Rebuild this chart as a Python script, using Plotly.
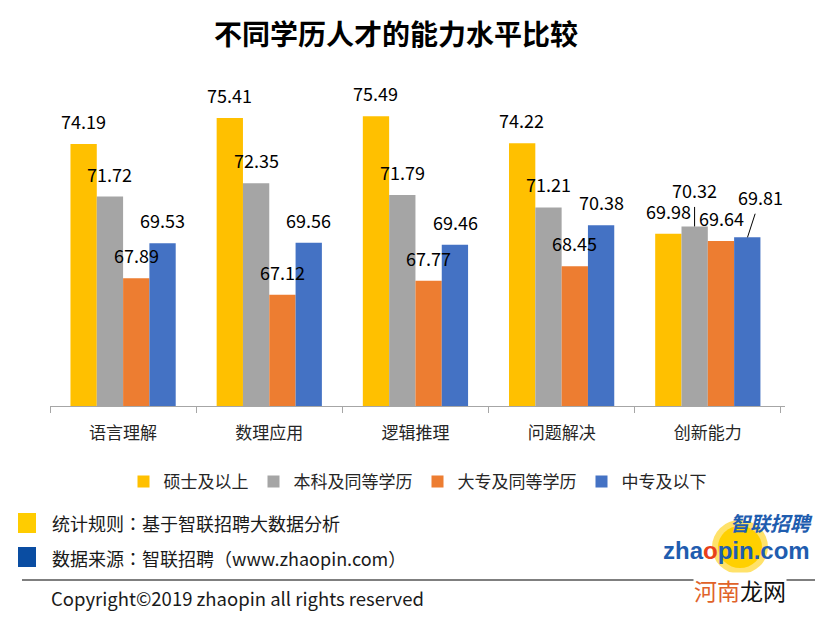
import plotly.graph_objects as go

# data
categories = ['语言理解', '数理应用', '逻辑推理', '问题解决', '创新能力']
series_names = ['硕士及以上', '本科及同等学历', '大专及同等学历', '中专及以下']
master_up = [74.19, 75.41, 75.49, 74.22, 69.98]
bachelor = [71.72, 72.35, 71.79, 71.21, 70.32]
college = [67.89, 67.12, 67.77, 68.45, 69.64]
secondary = [69.53, 69.56, 69.46, 70.38, 69.81]

series_values = [master_up, bachelor, college, secondary]
colors = ['#FFC000', '#A5A5A5', '#ED7D31', '#4472C4']

FONT = 'Noto Sans CJK SC'
FONT_JP = 'Noto Sans CJK JP'
W, H = 830, 620
M_L, M_R, M_T, M_B = 50, 45, 100, 214
BARGAP = 0.28

plot_w = W - M_L - M_R
plot_h = H - M_T - M_B


def px_x(X):
    return (X - M_L) / plot_w


def px_y(Y):
    return (H - M_B - Y) / plot_h


fig = go.Figure()

for name, vals, col in zip(series_names, series_values, colors):
    fig.add_trace(go.Bar(
        x=categories, y=vals, name=name,
        marker=dict(color=col, line=dict(width=0)),
        hovertemplate='%{x}<br>' + name + ': %{y:.2f}<extra></extra>'
    ))

# data labels, Excel style: a bit above each bar, a few moved with leader lines
bar_px = plot_w / len(categories) * (1 - BARGAP) / len(series_names)
leader = {(1, 4): (0, -36), (3, 4): (13, -40)}
annotations = []
for i, vals in enumerate(series_values):
    shift = (i - (len(series_names) - 1) / 2) * bar_px
    for j, v in enumerate(vals):
        if (i, j) in leader:
            ax, ay = leader[(i, j)]
            annotations.append(dict(
                x=categories[j], y=v, xref='x', yref='y', xshift=shift,
                text=f'{v:.2f}', showarrow=True, arrowhead=0, arrowwidth=1,
                arrowcolor='#000000', ax=ax, ay=ay, startstandoff=2,
                font=dict(family=FONT, size=18, color='#000000')
            ))
        else:
            annotations.append(dict(
                x=categories[j], y=v, xref='x', yref='y', xshift=shift,
                yshift=23, yanchor='middle', text=f'{v:.2f}', showarrow=False,
                font=dict(family=FONT, size=18, color='#000000')
            ))

# footnotes
foot_font = dict(family=FONT_JP, size=18, color='#1a1a1a')
annotations += [
    dict(x=px_x(50), y=px_y(523), xref='paper', yref='paper', xanchor='left',
         yanchor='middle', showarrow=False, font=foot_font,
         text='统计规则：基于智联招聘大数据分析'),
    dict(x=px_x(50), y=px_y(558), xref='paper', yref='paper', xanchor='left',
         yanchor='middle', showarrow=False, font=foot_font,
         text='数据来源：智联招聘（www.zhaopin.com）'),
    dict(x=px_x(49), y=px_y(598), xref='paper', yref='paper', xanchor='left',
         yanchor='middle', showarrow=False,
         font=dict(family=FONT, size=18.5, color='#1a1a1a'),
         text='Copyright©2019 zhaopin all rights reserved'),
    # logo
    dict(x=px_x(814), y=px_y(522), xref='paper', yref='paper', xanchor='right',
         yanchor='middle', showarrow=False, borderpad=0,
         font=dict(family=FONT, size=20, color='#1F5DAF'),
         text='<b><i>智联招聘</i></b>'),
    dict(x=px_x(811), y=px_y(550), xref='paper', yref='paper', xanchor='right',
         yanchor='middle', showarrow=False, borderpad=0,
         font=dict(family='Liberation Sans', size=24, color='#1F5DAF'),
         text="<b>zha<span style='color:#E8401C'>o</span>pin.com</b>"),
    # watermark
    dict(x=px_x(740), y=px_y(590), xref='paper', yref='paper', xanchor='center',
         yanchor='middle', showarrow=False, bgcolor='#ffffff', borderpad=0,
         font=dict(family=FONT, size=23, color='#111111'),
         text="<span style='color:#E0622A'>河南</span>龙网"),
]

shapes = [
    dict(type='rect', xref='paper', yref='paper', x0=px_x(18), x1=px_x(36),
         y0=px_y(533), y1=px_y(513), fillcolor='#FFCC00', line=dict(width=0)),
    dict(type='rect', xref='paper', yref='paper', x0=px_x(18), x1=px_x(36),
         y0=px_y(567), y1=px_y(547), fillcolor='#0A4DA2', line=dict(width=0)),
    dict(type='line', xref='paper', yref='paper', x0=px_x(22), x1=px_x(815),
         y0=px_y(580), y1=px_y(580), line=dict(color='#000000', width=1.2)),
    dict(type='circle', xref='paper', yref='paper', x0=px_x(712), x1=px_x(768),
         y0=px_y(574), y1=px_y(520), fillcolor='#FFE26A', line=dict(width=0),
         layer='below'),
    dict(type='circle', xref='paper', yref='paper', x0=px_x(718), x1=px_x(762),
         y0=px_y(568), y1=px_y(526), fillcolor='#FFD000', line=dict(width=0),
         layer='below'),
]

fig.update_layout(
    width=W, height=H,
    margin=dict(l=M_L, r=M_R, t=M_T, b=M_B),
    paper_bgcolor='#ffffff', plot_bgcolor='#ffffff',
    barmode='group', bargap=BARGAP, bargroupgap=0,
    title=dict(text='<b>不同学历人才的能力水平比较</b>', x=396 / W, xanchor='center',
               y=1 - 35 / H, yanchor='middle',
               font=dict(family=FONT, size=28, color='#000000')),
    font=dict(family=FONT, size=17, color='#262626'),
    legend=dict(orientation='h', x=0.5, xanchor='center', y=px_y(482),
                yanchor='middle', font=dict(family=FONT, size=17, color='#262626'),
                bgcolor='rgba(0,0,0,0)'),
    annotations=annotations,
    shapes=shapes,
    showlegend=True,
)

fig.update_xaxes(showline=True, linecolor='#A6A6A6', linewidth=1,
                 ticks='outside', tickson='boundaries', ticklen=6,
                 tickcolor='#A6A6A6', showgrid=False, ticklabelstandoff=12,
                 tickfont=dict(family=FONT, size=17, color='#262626'))
fig.update_yaxes(visible=False, range=[61.9, 76.25], showgrid=False)

# the page body has a default margin; drop it so the figure sits at 0,0
fig.write_html('out.html', config={'displayModeBar': False},
               post_script="document.body.style.margin='0';")
